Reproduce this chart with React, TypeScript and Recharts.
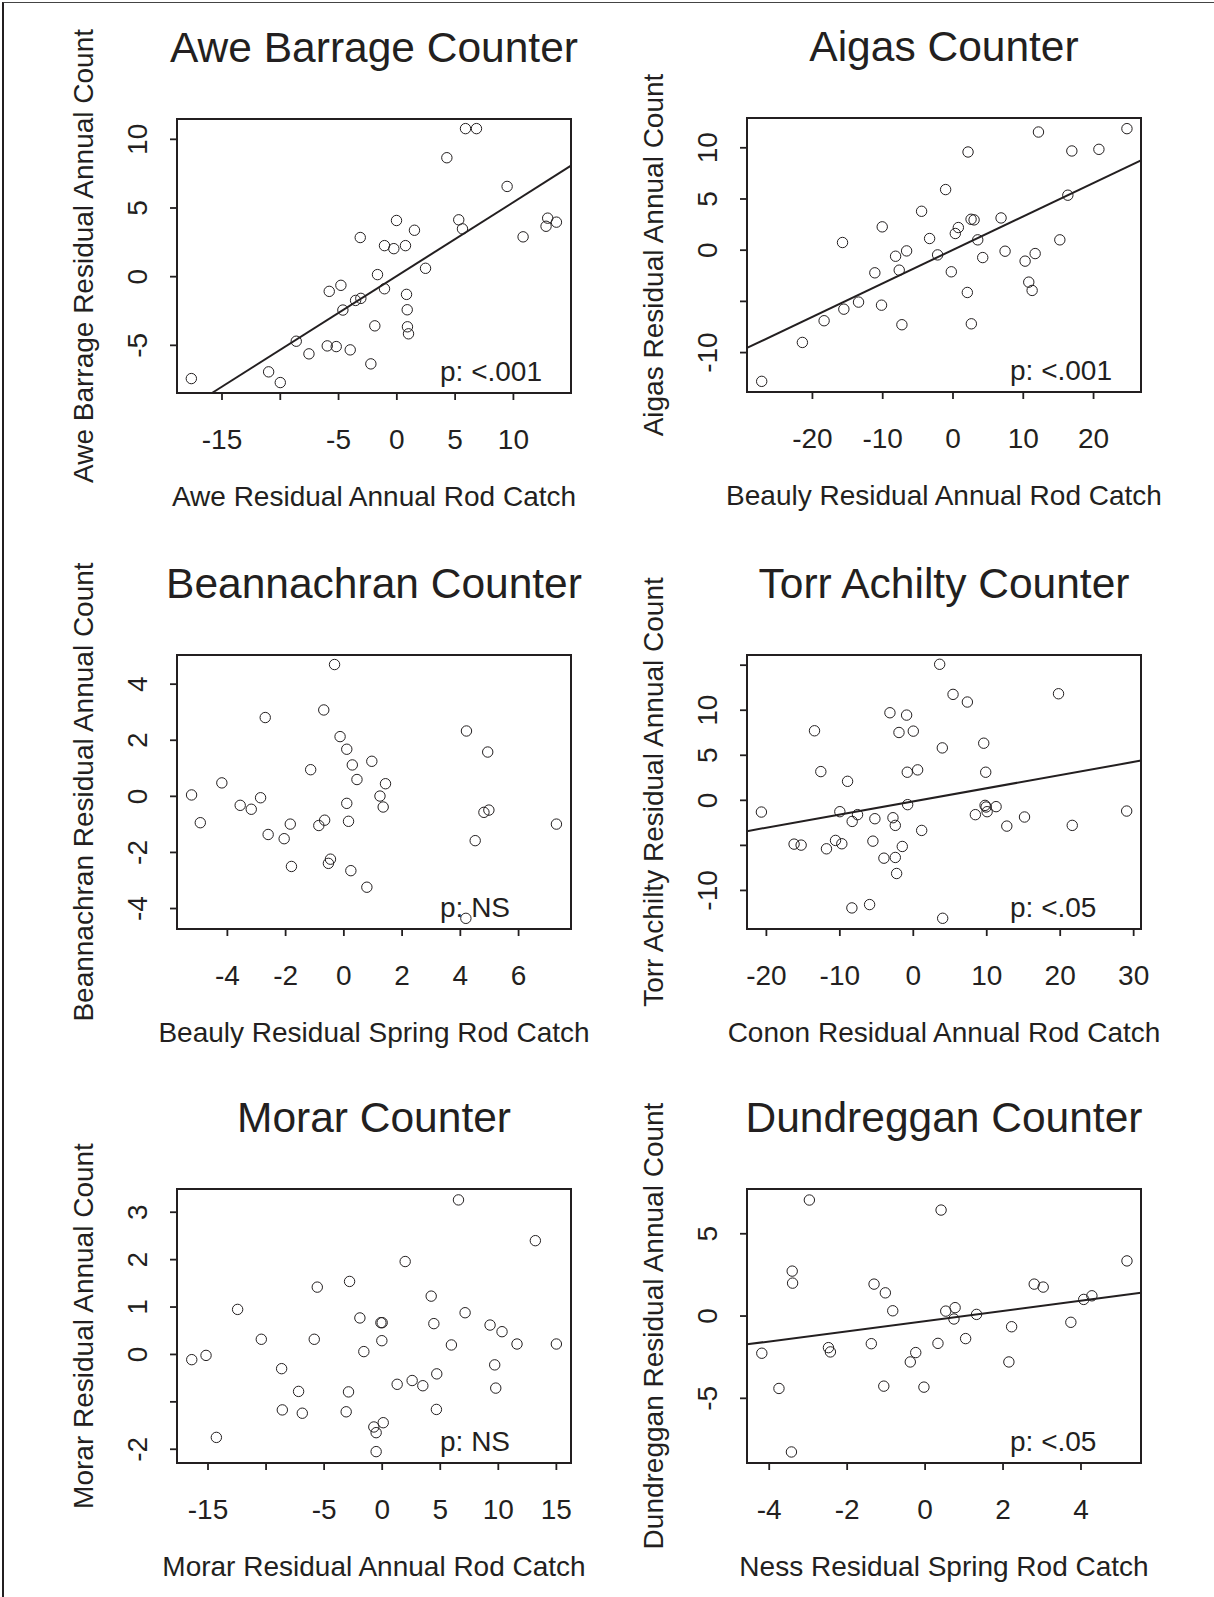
import React from 'react';
import { ScatterChart, Scatter, XAxis, YAxis, ReferenceArea, ReferenceLine } from 'recharts';

const INK = '#231f20';
const FONT = '"Liberation Sans", Arial, Helvetica, sans-serif';

// panel layout (px inside each chart)
const ML = 110;
const MT = 110;
const PW = 394;
const PH = 274;
const MR = 50;
const XH = 130;
const CW = ML + PW + MR;
const CH = MT + PH + XH;

const TICK_FS = 28;
const TITLE_FS = 42.5;

// Awe Barrage
const aweX = [-17.63, -11.0, -10.0, -8.63, -7.54, -5.97, -5.2, -4.0, -5.8, -4.8, -4.63, -3.54, -3.09, -3.14, -2.23, -1.89, -1.66, -1.06, -1.06, -0.26, -0.03, 0.74, 1.51, 0.83, 0.89, 0.91, 1.0, 2.46, 4.29, 5.31, 5.63, 5.89, 6.83, 9.46, 10.83, 12.94, 12.8, 13.69];
const aweY = [-7.42, -6.93, -7.71, -4.7, -5.62, -5.04, -5.09, -5.33, -1.07, -0.63, -2.43, -1.73, -1.58, 2.85, -6.35, -3.58, 0.15, -0.88, 2.26, 2.04, 4.09, 2.26, 3.38, -1.29, -2.41, -3.65, -4.16, 0.61, 8.66, 4.14, 3.48, 10.78, 10.78, 6.57, 2.9, 4.26, 3.67, 3.97];
const aweFit = [-15.86, -8.47, 14.94, 8.08];

// Aigas
const aigasX = [-27.22, -21.43, -18.34, -15.72, -15.53, -13.44, -11.12, -10.07, -10.17, -8.17, -7.65, -7.27, -6.6, -4.47, -3.33, -2.19, -1.05, -0.24, 0.33, 0.76, 2.14, 2.04, 2.57, 3.0, 2.61, 3.52, 4.23, 6.84, 7.41, 10.26, 10.78, 11.26, 11.69, 12.16, 15.2, 16.34, 16.91, 20.76, 24.75];
const aigasY = [-12.81, -9.01, -6.89, 0.75, -5.76, -5.07, -2.21, 2.28, -5.37, -0.59, -1.95, -7.28, -0.07, 3.8, 1.14, -0.46, 5.92, -2.11, 1.63, 2.21, 9.59, -4.13, 3.02, 2.96, -7.19, 1.01, -0.72, 3.15, -0.1, -1.07, -3.12, -3.93, -0.33, 11.54, 1.01, 5.37, 9.69, 9.85, 11.87];
const aigasFit = [-29.31, -9.55, 26.75, 8.78];

// Beannachran
const beanX = [-5.23, -4.93, -4.19, -3.56, -3.18, -2.86, -2.7, -2.6, -2.05, -1.84, -1.8, -1.14, -0.86, -0.66, -0.69, -0.53, -0.46, -0.32, -0.13, 0.1, 0.1, 0.16, 0.29, 0.24, 0.45, 0.79, 0.96, 1.24, 1.35, 1.43, 4.19, 4.21, 4.51, 4.81, 4.98, 4.94, 7.3];
const beanY = [0.05, -0.94, 0.48, -0.32, -0.46, -0.05, 2.81, -1.36, -1.51, -0.99, -2.5, 0.95, -1.04, -0.85, 3.08, -2.39, -2.24, 4.7, 2.13, 1.68, -0.25, -0.89, 1.12, -2.65, 0.6, -3.24, 1.25, 0.01, -0.38, 0.45, -4.35, 2.33, -1.58, -0.57, -0.49, 1.58, -0.99];

// Torr Achilty
const torrX = [-20.68, -16.23, -15.27, -13.45, -12.59, -11.82, -10.59, -10.0, -9.73, -8.95, -8.32, -8.36, -7.59, -5.95, -5.5, -5.23, -4.0, -3.18, -2.77, -2.45, -2.45, -2.27, -1.95, -1.5, -0.91, -0.82, -0.77, 0.0, 0.59, 1.14, 3.59, 3.95, 4.0, 5.41, 7.36, 8.45, 9.59, 9.86, 9.77, 9.91, 10.05, 11.27, 12.73, 15.14, 19.77, 21.64, 29.05];
const torrY = [-1.3, -4.86, -4.97, 7.72, 3.19, -5.38, -4.45, -1.26, -4.82, 2.11, -2.34, -11.94, -1.59, -11.57, -4.53, -2.04, -6.42, 9.72, -1.93, -2.78, -6.34, -8.12, 7.53, -5.12, 9.46, 3.12, -0.48, 7.68, 3.38, -3.34, 15.1, 5.82, -13.09, 11.76, 10.91, -1.59, 6.34, 3.12, -0.56, -0.74, -1.26, -0.7, -2.86, -1.85, 11.83, -2.78, -1.19];
const torrFit = [-22.64, -3.42, 31.0, 4.41];

// Morar
const morarX = [-16.4, -15.17, -14.28, -12.45, -10.41, -8.66, -8.6, -7.2, -6.88, -5.85, -5.59, -3.1, -2.9, -2.81, -1.92, -1.58, -0.72, -0.52, -0.52, -0.11, 0.0, -0.03, 0.09, 1.29, 1.98, 2.58, 3.5, 4.22, 4.45, 4.7, 4.67, 5.96, 6.57, 7.14, 9.29, 9.69, 9.78, 10.32, 11.61, 13.19, 15.0];
const morarY = [-0.11, -0.02, -1.75, 0.95, 0.32, -0.3, -1.17, -0.78, -1.24, 0.32, 1.42, -1.21, -0.79, 1.54, 0.77, 0.06, -1.53, -1.65, -2.05, 0.67, 0.67, 0.29, -1.44, -0.63, 1.96, -0.55, -0.66, 1.23, 0.65, -0.41, -1.16, 0.2, 3.26, 0.88, 0.62, -0.22, -0.71, 0.48, 0.22, 2.4, 0.22];

// Dundreggan
const dundX = [-4.19, -3.75, -3.43, -3.41, -3.4, -2.97, -2.48, -2.43, -1.38, -1.31, -1.06, -1.02, -0.83, -0.38, -0.24, -0.03, 0.33, 0.41, 0.53, 0.74, 0.77, 1.04, 1.32, 2.15, 2.22, 2.8, 3.03, 3.74, 4.07, 4.28, 5.18];
const dundY = [-2.26, -4.4, -8.26, 2.73, 2.0, 7.05, -1.92, -2.18, -1.68, 1.94, -4.26, 1.41, 0.32, -2.79, -2.22, -4.32, -1.66, 6.44, 0.3, -0.18, 0.51, -1.37, 0.1, -2.79, -0.65, 1.94, 1.76, -0.38, 1.01, 1.23, 3.35];
const dundFit = [-4.57, -1.72, 5.54, 1.41];

const zip = (xs: number[], ys: number[]) => xs.map((x, i) => ({ x, y: ys[i] }));

const panels = [
  {
    title: 'Awe Barrage Counter', xLabel: 'Awe Residual Annual Rod Catch', yLabel: 'Awe Barrage Residual Annual Count',
    p: 'p: <.001', data: zip(aweX, aweY), fit: aweFit,
    xDomain: [-18.86, 14.94], yDomain: [-8.47, 11.48],
    xTicks: [-15, -10, -5, 0, 5, 10], xLabels: [-15, -5, 0, 5, 10],
    yTicks: [-5, 0, 5, 10], yLabels: [-5, 0, 5, 10],
    left: 176.7, top: 119.3,
  },
  {
    title: 'Aigas Counter', xLabel: 'Beauly Residual Annual Rod Catch', yLabel: 'Aigas Residual Annual Count',
    p: 'p: <.001', data: zip(aigasX, aigasY), fit: aigasFit,
    xDomain: [-29.31, 26.75], yDomain: [-13.85, 12.91],
    xTicks: [-20, -10, 0, 10, 20], xLabels: [-20, -10, 0, 10, 20],
    yTicks: [-10, -5, 0, 5, 10], yLabels: [-10, 0, 5, 10],
    left: 747.3, top: 118.3,
  },
  {
    title: 'Beannachran Counter', xLabel: 'Beauly Residual Spring Rod Catch', yLabel: 'Beannachran Residual Annual Count',
    p: 'p: NS', data: zip(beanX, beanY), fit: null,
    xDomain: [-5.73, 7.8], yDomain: [-4.73, 5.04],
    xTicks: [-4, -2, 0, 2, 4, 6], xLabels: [-4, -2, 0, 2, 4, 6],
    yTicks: [-4, -2, 0, 2, 4], yLabels: [-4, -2, 0, 2, 4],
    left: 176.7, top: 655,
  },
  {
    title: 'Torr Achilty Counter', xLabel: 'Conon Residual Annual Rod Catch', yLabel: 'Torr Achilty Residual Annual Count',
    p: 'p: <.05', data: zip(torrX, torrY), fit: torrFit,
    xDomain: [-22.64, 31.0], yDomain: [-14.28, 16.13],
    xTicks: [-20, -10, 0, 10, 20, 30], xLabels: [-20, -10, 0, 10, 20, 30],
    yTicks: [-10, -5, 0, 5, 10, 15], yLabels: [-10, 0, 5, 10],
    left: 747.3, top: 655,
  },
  {
    title: 'Morar Counter', xLabel: 'Morar Residual Annual Rod Catch', yLabel: 'Morar Residual Annual Count',
    p: 'p: NS', data: zip(morarX, morarY), fit: null,
    xDomain: [-17.67, 16.26], yDomain: [-2.29, 3.49],
    xTicks: [-15, -10, -5, 0, 5, 10, 15], xLabels: [-15, -5, 0, 5, 10, 15],
    yTicks: [-2, -1, 0, 1, 2, 3], yLabels: [-2, 0, 1, 2, 3],
    left: 176.7, top: 1189,
  },
  {
    title: 'Dundreggan Counter', xLabel: 'Ness Residual Spring Rod Catch', yLabel: 'Dundreggan Residual Annual Count',
    p: 'p: <.05', data: zip(dundX, dundY), fit: dundFit,
    xDomain: [-4.57, 5.54], yDomain: [-8.93, 7.72],
    xTicks: [-4, -2, 0, 2, 4], xLabels: [-4, -2, 0, 2, 4],
    yTicks: [-5, 0, 5], yLabels: [-5, 0, 5],
    left: 747.3, top: 1189,
  },
];

const textStyle = { fontFamily: FONT, fill: INK };

const XTick = (props: any) => {
  const { x, payload, labels } = props;
  if (!labels.includes(payload.value)) return null;
  return (
    <text x={x} y={MT + PH + 56} textAnchor="middle" fontSize={TICK_FS} {...textStyle}>
      {String(payload.value)}
    </text>
  );
};

const YTick = (props: any) => {
  const { y, payload, labels } = props;
  if (!labels.includes(payload.value)) return null;
  const bx = ML - 30;
  return (
    <text x={bx} y={y} transform={`rotate(-90 ${bx} ${y})`} textAnchor="middle" fontSize={TICK_FS} {...textStyle}>
      {String(payload.value)}
    </text>
  );
};

const XTitle = ({ text }: any) => (
  <text x={ML + PW / 2} y={MT + PH + 113} textAnchor="middle" fontSize={TICK_FS} {...textStyle}>
    {text}
  </text>
);

const YTitle = ({ text }: any) => {
  const bx = ML - 84;
  const cy = MT + PH / 2;
  return (
    <text x={bx} y={cy} transform={`rotate(-90 ${bx} ${cy})`} textAnchor="middle" fontSize={TICK_FS} {...textStyle}>
      {text}
    </text>
  );
};

const Circle = (props: any) => (
  <circle cx={props.cx} cy={props.cy} r={5.2} fill="none" stroke={INK} strokeWidth={1} />
);

const Panel = ({ cfg }: any) => (
  <div style={{ position: 'absolute', left: cfg.left - ML, top: cfg.top - MT, width: CW, height: CH }}>
    <ScatterChart width={CW} height={CH} margin={{ top: MT, right: MR, bottom: 0, left: 0 }}>
      <XAxis
        type="number"
        dataKey="x"
        domain={cfg.xDomain}
        allowDataOverflow
        ticks={cfg.xTicks}
        interval={0}
        height={XH}
        axisLine={false}
        tickSize={7}
        stroke={INK}
        tickLine={{ stroke: INK, strokeWidth: 1.8 }}
        tick={<XTick labels={cfg.xLabels} />}
        label={<XTitle text={cfg.xLabel} />}
      />
      <YAxis
        type="number"
        dataKey="y"
        domain={cfg.yDomain}
        allowDataOverflow
        ticks={cfg.yTicks}
        interval={0}
        width={ML}
        axisLine={false}
        tickSize={7}
        stroke={INK}
        tickLine={{ stroke: INK, strokeWidth: 1.8 }}
        tick={<YTick labels={cfg.yLabels} />}
        label={<YTitle text={cfg.yLabel} />}
      />
      <ReferenceArea
        x1={cfg.xDomain[0]}
        x2={cfg.xDomain[1]}
        y1={cfg.yDomain[0]}
        y2={cfg.yDomain[1]}
        fill="none"
        fillOpacity={0}
        stroke={INK}
        strokeWidth={2}
        strokeOpacity={1}
        ifOverflow="visible"
      />
      {cfg.fit && (
        <ReferenceLine
          segment={[{ x: cfg.fit[0], y: cfg.fit[1] }, { x: cfg.fit[2], y: cfg.fit[3] }]}
          stroke={INK}
          strokeWidth={2}
          ifOverflow="visible"
        />
      )}
      <Scatter data={cfg.data} shape={<Circle />} isAnimationActive={false} />
    </ScatterChart>
    <svg width={CW} height={CH} style={{ position: 'absolute', left: 0, top: 0, pointerEvents: 'none' }}>
      <text x={ML + PW / 2} y={MT - 57} textAnchor="middle" fontSize={TITLE_FS} {...textStyle}>
        {cfg.title}
      </text>
      <text x={ML + 263} y={MT + PH - 12} fontSize={TICK_FS} {...textStyle}>
        {cfg.p}
      </text>
    </svg>
  </div>
);

export default function App() {
  return (
    <div style={{ position: 'absolute', left: 0, top: 0, width: 1214, height: 1597, background: '#fff', overflow: 'hidden' }}>
      <div
        style={{
          position: 'absolute', left: 2, top: 2, width: 1212, height: 1595,
          borderLeft: `2px solid ${INK}`, borderTop: '1.5px solid #444', boxSizing: 'border-box',
        }}
      />
      {panels.map((cfg) => (
        <Panel key={cfg.title} cfg={cfg} />
      ))}
    </div>
  );
}
